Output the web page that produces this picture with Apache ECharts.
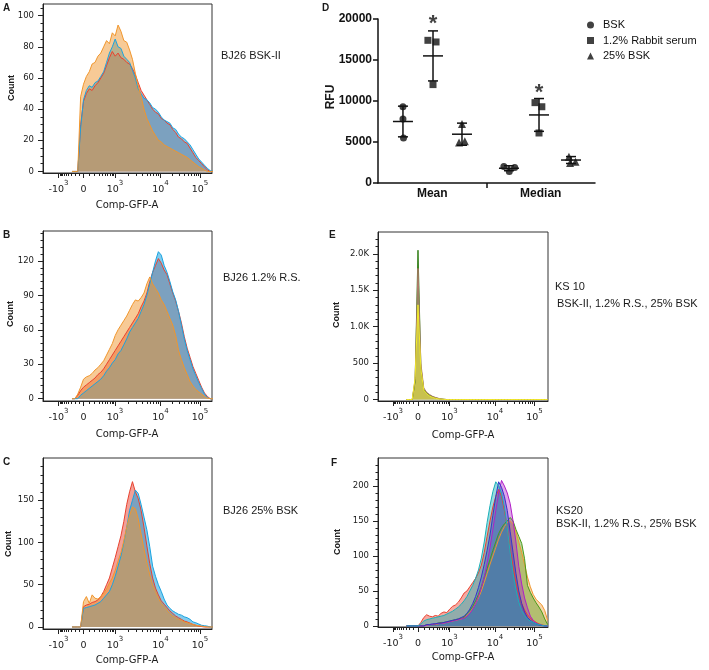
<!DOCTYPE html>
<html><head><meta charset="utf-8">
<script src="https://cdn.jsdelivr.net/npm/echarts@6/dist/echarts.min.js"></script>
<style>html,body{margin:0;padding:0;background:#fff}#c{width:709px;height:670px}</style>
</head><body><div id="c"></div>
<script>
// ---------- DATA ----------
// histogram bin centres in display units of the biexponential Comp-GFP-A axis
const bins = [-0.24,-0.18,-0.12,-0.06,0,0.06,0.12,0.18,0.24,0.30,0.36,0.42,0.48,0.54,0.60,0.66,0.72,0.78,0.84,0.90,0.96,1.02,1.08,1.14,1.20,1.26,1.32,1.38,1.44,1.50,1.56,1.62,1.68,1.74,1.80,1.86,1.92,1.98,2.04,2.10,2.16,2.22,2.28,2.34,2.40,2.46,2.52,2.58,2.64,2.70];
// axis tick positions (display units) and labels
const tickPos = [-0.52, 0, 0.656, 1.604, 2.427];
const tickLabels = ['{b|-10}{s|3}', '{b|0}', '{b|10}{s|3}', '{b|10}{s|4}', '{b|10}{s|5}'];

// A  BJ26 BSK-II
const aRed    = [0,0,0,30,45,50,53,52,55,57,60,63,68,73,77,74,76,73,72,70,69,66,62,57,52,49,46,43,40,38,37,34,33,31,30,27,25,22,21,19,18,15,12,9,7,5,3,1,0,0];
const aCyan   = [0,0,0,28,46,52,55,54,57,58,61,64,70,76,80,85,80,79,74,72,70,65,60,53,50,47,46,44,41,40,38,35,33,32,31,28,27,24,22,21,19,17,14,11,8,6,4,2,0.5,0];
const aOrange = [0,0,0,48,56,61,64,69,70,74,76,80,84,82,89,87,94,90,84,83,78,72,63,55,48,40,34,30,26,23,20,19,17,16,15,14,13,12,11,10,9,7.5,6,4.5,3,2,1,0,0,0];
// B  BJ26 1.2% R.S.
const bRed    = [0,0,3,7,10,12,14,16,18,21,23,26,30,34,38,42,46,50,54,58,62,66,70,74,80,85,92,102,110,116,122,118,112,108,100,92,85,76,66,54,44,36,28,22,16,10,5,2,0,0];
const bCyan   = [0,0,0,3,5,7,9,11,13,15,17,20,24,27,31,34,39,42,47,52,58,62,66,70,76,82,90,100,110,120,128,125,116,110,102,93,86,76,64,52,42,34,26,20,14,9,4,1,0,0];
const bOrange = [0,0,4,10,17,19,20,22,25,27,30,33,38,43,48,55,60,64,68,72,77,82,86,85,88,92,100,106,100,96,92,86,82,76,70,64,55,42,34,27,21,15,11,8,6,4,2,0.5,0,0];
// C  BJ26 25% BSK
const cRed    = [0,0,0,0,24,26,27,29,30,32,36,42,50,58,70,82,95,108,125,145,160,172,160,152,138,118,96,75,58,46,38,31,27,23,19,16,13,11,9,7,6,4.5,3,2,1,0.5,0,0,0,0];
const cCyan   = [0,0,0,0,22,23,24,25,26,28,30,34,38,42,50,60,72,84,100,118,138,150,162,158,145,130,115,95,72,60,50,42,33,26,22,19,17,15,14,12,11,9,6,5,3.5,2,1.5,1,0,0];
const cOrange = [0,0,0,0,30,36,28,38,34,33,36,40,45,52,58,67,78,88,102,118,132,142,140,128,110,92,76,62,50,42,34,28,24,20,16,13,11,9,8,6,5,4,3,2,1.5,1,0.5,0,0,0];
// E  KS 10
const eGreen  = [0,0,0,250,2050,450,140,90,60,40,25,15,8,3,0,0,0,0,0,0,0,0,0,0,0,0,0,0,0,0,0,0,0,0,0,0,0,0,0,0,0,0,0,0,0,0,0,0,0,0];
const eBrown  = [0,0,0,280,1800,500,160,100,70,45,30,18,9,4,0,0,0,0,0,0,0,0,0,0,0,0,0,0,0,0,0,0,0,0,0,0,0,0,0,0,0,0,0,0,0,0,0,0,0,0];
const eYellow = [0,0,0,300,1300,420,130,80,50,30,18,10,5,2,0,0,0,0,0,0,0,0,0,0,0,0,0,0,0,0,0,0,0,0,0,0,0,0,0,0,0,0,0,0,0,0,0,0,0,0];
// F  KS20
const fRed     = [0,0,0,0,0,5,12,16,14,13,15,14,18,20,19,24,28,30,34,40,47,50,56,62,68,76,87,105,128,150,170,185,195,185,165,140,110,85,62,45,32,23,16,11,8,5,3,1.5,0.5,0];
const fTeal    = [0,0,0,0,0,3,7,9,10,11,12,13,14,15,17,19,21,24,27,31,36,42,50,58,68,80,97,120,148,172,192,206,200,190,170,140,105,75,52,34,22,15,10,7,5,3,2,1,0,0];
const fBlue    = [0,0,0,0,0,0,0,2,2,3,3,4,4,5,6,7,8,9,10,12,14,18,24,32,42,55,70,88,108,130,158,185,206,198,185,165,135,105,75,50,32,20,12,8,5,3,1.5,0.5,0,0];
const fMagenta = [0,0,0,0,0,0,0,1,2,2,3,3,4,4,5,6,7,8,9,10,11,14,18,24,32,42,55,70,90,112,138,165,190,208,200,190,175,150,120,85,60,40,26,14,8,4,2,1,0,0];
const fGreen   = [0,0,0,0,0,0,0,2,2,2,3,4,5,5,6,7,8,9,10,11,12,18,22,28,36,45,56,70,82,95,108,120,132,140,146,150,155,150,138,128,118,96,58,48,40,33,27,20,10,2];
const fOrange  = [0,0,0,0,0,0,0,1,2,2,2,3,4,4,5,6,7,8,9,10,12,15,19,25,32,40,50,62,75,88,100,112,124,134,142,148,150,146,134,120,105,88,70,56,45,38,34,30,22,8];

// D  RFU scatter
const dCategories = ['Mean', 'Median'];
const dBSK  = [[0.23,9300],[0.23,7800],[0.235,5500],[1.16,2000],[1.26,1900],[1.21,1400]];
const dRS   = [[0.46,17400],[0.535,17200],[0.507,12000],[1.447,9800],[1.51,9300],[1.484,6100]];
const d25   = [[0.774,7200],[0.747,4950],[0.80,5100],[1.76,3200],[1.82,2600],[1.77,2450]];
// [x, mean, sd]
const dErr  = [[0.23,7500,1870],[0.507,15500,3050],[0.774,5950,1350],[1.207,1800,300],[1.484,8300,2000],[1.779,2800,420]];
const dStars = [[0.507,20000],[1.484,11550]];

// ---------- CHART ----------
const chart = echarts.init(document.getElementById('c'), null, {renderer:'canvas'});
const zip = ys => bins.map((x,i)=>[x, ys[i]]);
function nearestIdx(v){ let b=0; for(let i=1;i<tickPos.length;i++){ if(Math.abs(tickPos[i]-v)<Math.abs(tickPos[b]-v)) b=i; } return b; }
function minorX(){
  const out=[]; const s=Math.asinh(4);
  for(let k=1;k<10;k++){ const v=k*100; out.push(0.656*Math.asinh(v/250)/s); out.push(-0.52*Math.asinh(v/250)/s); }
  const dec=[[0.656,1.604],[1.604,2.427],[2.427,3.25]];
  for(const [a,b] of dec) for(let k=2;k<10;k++){ const p=a+(b-a)*Math.log10(k); if(p<2.67) out.push(p); }
  return out;
}
const minorXPos = minorX();
const FJ = 'DejaVu Sans';
const AR = 'Liberation Sans';

const panels = [
  {left:43, top:4,   width:169, height:169, xmin:-0.844, xmax:2.677, ymin:-1,   ymax:107.5, yMajor:[0,20,40,60,80,100], yStep:5},
  {left:43, top:231, width:169, height:170, xmin:-0.844, xmax:2.677, ymin:-2,   ymax:146,   yMajor:[0,30,60,90,120], yStep:6},
  {left:43, top:458, width:169, height:171, xmin:-0.844, xmax:2.677, ymin:-2.4, ymax:200,   yMajor:[0,50,100,150], yStep:10},
  {left:378,top:232, width:170, height:169, xmin:-0.833, xmax:2.708, ymin:-20,  ymax:2300,  yMajor:[0,500,1000,1500,2000], yStep:100, k:true},
  {left:378,top:458, width:170, height:169, xmin:-0.833, xmax:2.708, ymin:-1.5, ymax:240,   yMajor:[0,50,100,150,200], yStep:10}
];
const grid=[], xAxis=[], yAxis=[];
panels.forEach((p,k)=>{
  grid.push({left:p.left, top:p.top, width:p.width, height:p.height, show:true, borderColor:'#333', borderWidth:1, containLabel:false});
  xAxis.push({gridIndex:k, type:'value', position:'bottom', min:p.xmin, max:p.xmax,
    axisLine:{show:true, onZero:false, lineStyle:{color:'#222', width:1}},
    axisTick:{show:true, customValues:tickPos, length:5, lineStyle:{color:'#222'}},
    axisLabel:{show:true, customValues:tickPos, margin:7, formatter:v=>tickLabels[nearestIdx(v)],
      rich:{b:{fontFamily:FJ, fontSize:9.5, color:'#1a1a1a', lineHeight:15, verticalAlign:'bottom'},
            s:{fontFamily:FJ, fontSize:7, color:'#1a1a1a', lineHeight:8, verticalAlign:'top'}}},
    splitLine:{show:false}});
  xAxis.push({gridIndex:k, type:'value', position:'bottom', min:p.xmin, max:p.xmax,
    axisLine:{show:false, onZero:false}, axisTick:{show:true, customValues:minorXPos, length:3, lineStyle:{color:'#222'}},
    axisLabel:{show:false}, splitLine:{show:false}});
  const minors=[]; for(let v=p.yStep; v<p.ymax; v+=p.yStep){ if(!p.yMajor.includes(v)) minors.push(v); }
  yAxis.push({gridIndex:k, type:'value', position:'left', min:p.ymin, max:p.ymax,
    axisLine:{show:true, onZero:false, lineStyle:{color:'#222', width:1}},
    axisTick:{show:true, customValues:p.yMajor, length:5, lineStyle:{color:'#222'}},
    axisLabel:{show:true, customValues:p.yMajor, margin:9, fontFamily:FJ, fontSize:8.5, color:'#1a1a1a',
      formatter:v=> p.k ? (v===0?'0':(v<1000?String(v):(v/1000).toFixed(1)+'K')) : String(v)},
    splitLine:{show:false}});
  yAxis.push({gridIndex:k, type:'value', position:'left', min:p.ymin, max:p.ymax,
    axisLine:{show:false, onZero:false}, axisTick:{show:true, customValues:minors, length:2.5, lineStyle:{color:'#222'}},
    axisLabel:{show:false}, splitLine:{show:false}});
});
// D grid
grid.push({left:378, top:19, width:217, height:164, show:false});
const DX = xAxis.length, DY = yAxis.length;
const dLine = {color:'#111', width:1.5};
xAxis.push({gridIndex:5, type:'value', min:0, max:2,
  axisLine:{show:true, onZero:false, lineStyle:dLine},
  axisTick:{show:true, customValues:[1], length:5, lineStyle:dLine},
  axisLabel:{show:true, customValues:[0.5,1.5], formatter:v=>dCategories[v<1?0:1], margin:5,
    fontFamily:AR, fontWeight:'bold', fontSize:12, color:'#111'},
  splitLine:{show:false}});
yAxis.push({gridIndex:5, type:'value', min:0, max:20000, interval:5000,
  axisLine:{show:true, onZero:false, lineStyle:dLine},
  axisTick:{show:true, length:5, lineStyle:dLine},
  axisLabel:{show:true, margin:6, fontFamily:AR, fontWeight:'bold', fontSize:12, color:'#111', formatter:v=>String(v)},
  splitLine:{show:false}});

function hist(name, k, ys, color, op){
  return {type:'line', name, xAxisIndex:2*k, yAxisIndex:2*k, data:zip(ys), symbol:'none', showSymbol:false,
    lineStyle:{color, width:1}, areaStyle:{color, opacity:op}, itemStyle:{color}, silent:true, animation:false};
}
const RED='#e8412f', CYAN='#1aa3e0', ORG='#f0962d';
const series = [
  hist('aRed',0,aRed,RED,0.5), hist('aCyan',0,aCyan,CYAN,0.55), hist('aOrange',0,aOrange,ORG,0.5),
  hist('bRed',1,bRed,RED,0.5), hist('bCyan',1,bCyan,CYAN,0.55), hist('bOrange',1,bOrange,ORG,0.5),
  hist('cRed',2,cRed,RED,0.5), hist('cCyan',2,cCyan,CYAN,0.55), hist('cOrange',2,cOrange,ORG,0.5),
  hist('eGreen',3,eGreen,'#2f7d14',0.55), hist('eBrown',3,eBrown,'#b07a6a',0.5), hist('eYellow',3,eYellow,'#f2ea2a',0.5),
  hist('fRed',4,fRed,RED,0.45), hist('fOrange',4,fOrange,ORG,0.4), hist('fGreen',4,fGreen,'#4a9a18',0.4),
  hist('fMagenta',4,fMagenta,'#b01ec8',0.4), hist('fBlue',4,fBlue,'#3535c8',0.4), hist('fTeal',4,fTeal,'#1ab0b8',0.45),
  {type:'custom', name:'err', xAxisIndex:DX, yAxisIndex:DY, data:dErr, silent:true,
    renderItem:function(params, api){
      const x=api.value(0), m=api.value(1), sd=api.value(2);
      const c=api.coord([x,m]), t=api.coord([x,m+sd]), b=api.coord([x,m-sd]);
      const st={stroke:'#111', lineWidth:1.5};
      return {type:'group', children:[
        {type:'line', shape:{x1:c[0],y1:t[1],x2:c[0],y2:b[1]}, style:st},
        {type:'line', shape:{x1:c[0]-5,y1:t[1],x2:c[0]+5,y2:t[1]}, style:st},
        {type:'line', shape:{x1:c[0]-5,y1:b[1],x2:c[0]+5,y2:b[1]}, style:st},
        {type:'line', shape:{x1:c[0]-10,y1:c[1],x2:c[0]+10,y2:c[1]}, style:st}
      ]};
    }},
  {type:'scatter', name:'BSK', xAxisIndex:DX, yAxisIndex:DY, data:dBSK, symbol:'circle', symbolSize:7, itemStyle:{color:'#111'}},
  {type:'scatter', name:'1.2% Rabbit serum', xAxisIndex:DX, yAxisIndex:DY, data:dRS, symbol:'rect', symbolSize:7, itemStyle:{color:'#111'}},
  {type:'scatter', name:'25% BSK', xAxisIndex:DX, yAxisIndex:DY, data:d25, symbol:'triangle', symbolSize:8, itemStyle:{color:'#111'}},
  {type:'scatter', name:'stars', xAxisIndex:DX, yAxisIndex:DY, data:dStars, symbolSize:1, itemStyle:{color:'rgba(0,0,0,0)'},
    label:{show:true, position:'inside', formatter:'*', fontFamily:AR, fontWeight:'bold', fontSize:22, color:'#111', offset:[0,5]}, silent:true}
];

function txt(s, x, y, size, weight, family, align, rot){
  return {type:'text', x, y, rotation:rot||0, silent:true,
    style:{text:s, x:0, y:0, fill:'#1a1a1a', font:`${weight} ${size}px "${family}"`,
      textAlign:align, align:align, textVerticalAlign:'middle', verticalAlign:'middle'}};
}
const R = Math.PI/2;
const graphic = [
  txt('A',3,8,10,'bold',AR,'left'), txt('B',3,235,10,'bold',AR,'left'), txt('C',3,462,10,'bold',AR,'left'),
  txt('D',322,8,10,'bold',AR,'left'), txt('E',329,235,10,'bold',AR,'left'), txt('F',331,463,10,'bold',AR,'left'),
  txt('BJ26 BSK-II',221,56,11,'normal',AR,'left'),
  txt('BJ26 1.2% R.S.',223,278,11,'normal',AR,'left'),
  txt('BJ26 25% BSK',223,511,11,'normal',AR,'left'),
  txt('KS 10',555,287,11,'normal',AR,'left'),
  txt('BSK-II, 1.2% R.S., 25% BSK',557,304,11,'normal',AR,'left'),
  txt('KS20',556,511,11,'normal',AR,'left'),
  txt('BSK-II, 1.2% R.S., 25% BSK',556,524,11,'normal',AR,'left'),
  txt('Count',12,88,9,'bold',AR,'center',R), txt('Count',11,314,9,'bold',AR,'center',R), txt('Count',9,544,9,'bold',AR,'center',R),
  txt('Count',337,315,9,'bold',AR,'center',R), txt('Count',338,542,9,'bold',AR,'center',R),
  txt('RFU',331,97,12,'bold',AR,'center',R),
  txt('Comp-GFP-A',127,205,10,'normal',FJ,'center'), txt('Comp-GFP-A',127,434,10,'normal',FJ,'center'),
  txt('Comp-GFP-A',127,660,10,'normal',FJ,'center'), txt('Comp-GFP-A',463,435,10,'normal',FJ,'center'),
  txt('Comp-GFP-A',463,657,10,'normal',FJ,'center')
];

chart.setOption({
  animation:false, backgroundColor:'#fff',
  grid, xAxis, yAxis, series, graphic,
  legend:{show:true, selectedMode:false, orient:'vertical', left:582, top:14, itemGap:3.5, itemWidth:7, itemHeight:7,
    data:[{name:'BSK', icon:'circle'},{name:'1.2% Rabbit serum', icon:'rect'},{name:'25% BSK', icon:'triangle'}],
    textStyle:{fontFamily:AR, fontSize:11, color:'#111', lineHeight:12, padding:[0,0,0,4]}}
});
</script></body></html>
